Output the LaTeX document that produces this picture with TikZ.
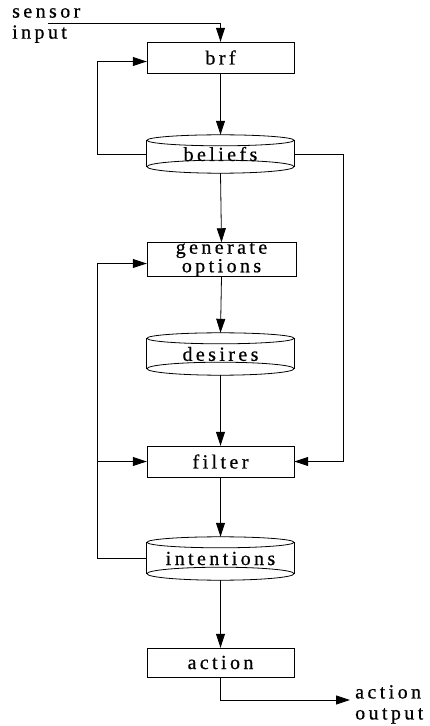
\documentclass[tikz,border=0pt]{standalone}
\usepackage{fontspec}
\setmainfont{Liberation Serif}[LetterSpace=17, FakeBold=0.6]
\usetikzlibrary{arrows.meta}
\tikzset{
  txt/.style={font=\fontsize{20}{21}\selectfont},
  stepbox/.style={draw, minimum width=147pt, minimum height=31pt, inner sep=0pt, txt},
  store/.style={minimum width=147pt, inner sep=0pt, txt},
  flow/.style={-{Triangle[length=14pt,width=9pt]}, line width=0.8pt},
  link/.style={line width=0.8pt}
}
% draws a data store (cylinder) around a named node
\newcommand\datastore[1]{%
  \draw[line width=0.8pt]
    ([yshift=-5.5pt]#1.north west) -- ([yshift=6.5pt]#1.south west)
    ([yshift=-5.5pt]#1.north east) -- ([yshift=6.5pt]#1.south east);
  \draw[line width=0.8pt] ([yshift=-5.5pt]#1.north) ellipse [x radius=73.5pt, y radius=5.5pt];
  \draw[line width=0.8pt] ([yshift=6.5pt]#1.south) ellipse [x radius=73.5pt, y radius=6.5pt];
}
\begin{document}
\begin{tikzpicture}[x=1pt,y=-1pt]
\useasboundingbox (0,0) rectangle (430,726);

\node[stepbox] (brf) at (220.5,57.5) {brf};
\node[store, minimum height=38pt] (beliefs) at (220.5,154) {beliefs};
\node[stepbox, minimum width=149pt, align=center, font=\fontsize{20}{14}\selectfont] (gen) at (221.5,259.5) {generate\\options};
\node[store, minimum height=42pt] (desires) at (220.5,354) {desires};
\node[stepbox] (filter) at (220.5,461.5) {filter};
\node[store, minimum height=43pt] (intentions) at (220.5,558.5) {intentions};
\node[stepbox, minimum height=29pt] (action) at (220.5,662.5) {action};

\datastore{beliefs}
\datastore{desires}
\datastore{intentions}

\node[txt, align=left, anchor=north west, inner sep=0pt] (sensor) at (12,8) {sensor\\input};
\node[txt, align=left, anchor=north west, inner sep=0pt] (out) at (355,685) {action\\output};

\coordinate (sin) at (48,23);
\coordinate (aout) at (350,700);

% main flow
\draw[flow] (sin) -| (brf.north);
\draw[flow] (brf.south) -- (beliefs.north);
\draw[flow] (beliefs.south) -- (gen.north);
\draw[flow] (gen.south) -- (desires.north);
\draw[flow] (desires.south) -- (filter.north);
\draw[flow] (filter.south) -- (intentions.north);
\draw[flow] (intentions.south) -- (action.north);
\draw[flow] (action.south) |- (aout);

% feedback loops
\draw[flow] (beliefs.west) -- ++(-49,0) |- ([yshift=-4pt]brf.west);
\draw[flow] (beliefs.east) -- ++(49,0) |- (filter.east);
\draw[flow] (intentions.west) -- ++(-49,0) |- ([yshift=-4pt]gen.west);
\draw[flow] (98,461.5) -- (filter.west);
\end{tikzpicture}
\end{document}
